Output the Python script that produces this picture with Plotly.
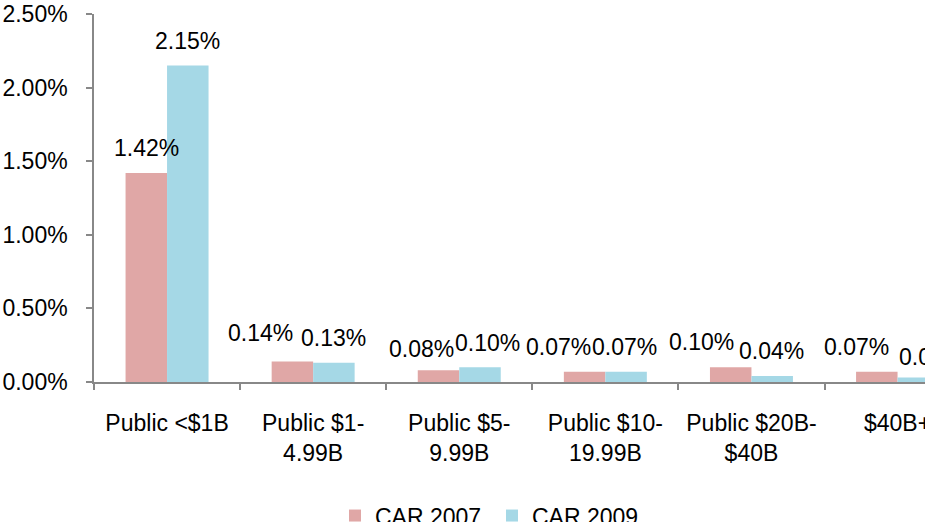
import plotly.graph_objects as go

categories = ["Public <$1B", "Public $1-<br>4.99B", "Public $5-<br>9.99B",
              "Public $10-<br>19.99B", "Public $20B-<br>$40B", "$40B+"]
car_2007 = [1.42, 0.14, 0.08, 0.07, 0.10, 0.07]
car_2009 = [2.15, 0.13, 0.10, 0.07, 0.04, 0.03]
series_names = ["CAR 2007", "CAR 2009"]

# label nudges (pixels) for data labels, as placed in the original
dx_2007 = [0, -32, -17, -26, -29, -20]
dx_2009 = [0, 0, 7, -2, -1, 13]
dy_2007 = [25, 28, 21, 25, 25, 25]
dy_2009 = [25, 25, 24, 25, 25, 21]

FONT = "Arial, Liberation Sans, sans-serif"
PINK = "#E0A7A6"
BLUE = "#A5D8E6"
AXIS = "#888888"
BARGAP = 0.432

fig = go.Figure()
fig.add_trace(go.Bar(x=list(range(len(categories))), y=[v / 100 for v in car_2007],
                     name=series_names[0], marker=dict(color=PINK, line=dict(width=0))))
fig.add_trace(go.Bar(x=list(range(len(categories))), y=[v / 100 for v in car_2009],
                     name=series_names[1], marker=dict(color=BLUE, line=dict(width=0))))

half = (1 - BARGAP) / 4
annotations = []
for i in range(len(categories)):
    for vals, off, dxs, dys in ((car_2007, -half, dx_2007, dy_2007),
                                (car_2009, half, dx_2009, dy_2009)):
        annotations.append(dict(
            x=i + off, y=vals[i] / 100, xref="x", yref="y",
            text=f"{vals[i]:.2f}%", showarrow=False,
            xanchor="center", yanchor="middle",
            xshift=dxs[i], yshift=dys[i],
            font=dict(family=FONT, size=23, color="black")))

fig.update_layout(
    width=925, height=522,
    margin=dict(l=94, r=0, t=14, b=140, autoexpand=False),
    paper_bgcolor="white", plot_bgcolor="white",
    barmode="group", bargap=BARGAP, bargroupgap=0,
    font=dict(family=FONT, size=23, color="black"),
    showlegend=True,
    legend=dict(orientation="h", x=0.29, xanchor="left", y=-0.363, yanchor="middle",
                font=dict(family=FONT, size=23, color="black"),
                entrywidth=112, entrywidthmode="pixels", bgcolor="rgba(0,0,0,0)"),
    annotations=annotations,
)
fig.update_xaxes(
    type="linear", range=[-0.5, -0.5 + 831 / 146.1],
    tickmode="array", tickvals=list(range(len(categories))), ticktext=categories,
    showline=True, linecolor=AXIS, linewidth=1.5,
    ticks="", showgrid=False, zeroline=False, ticklabeloverflow="allow",
    ticklabelstandoff=20, tickfont=dict(family=FONT, size=23, color="black"),
)
# category-boundary tick marks
fig.update_xaxes(minor=dict(tickmode="array", tickvals=[i - 0.5 for i in range(len(categories) + 1)],
                            ticks="outside", ticklen=6, tickcolor=AXIS, tickwidth=1.5, showgrid=False))
fig.update_yaxes(
    range=[0, 0.025], tickmode="array", tickvals=[0, 0.005, 0.01, 0.015, 0.02, 0.025],
    tickformat=".2%", showline=True, linecolor=AXIS, linewidth=1.5,
    ticks="outside", ticklen=6, tickcolor=AXIS, tickwidth=1.5,
    showgrid=False, zeroline=False, ticklabelstandoff=14,
    tickfont=dict(family=FONT, size=23, color="black"),
)

fig.write_html("out.html", config={"displayModeBar": False},
               post_script="document.body.style.margin='0';")
